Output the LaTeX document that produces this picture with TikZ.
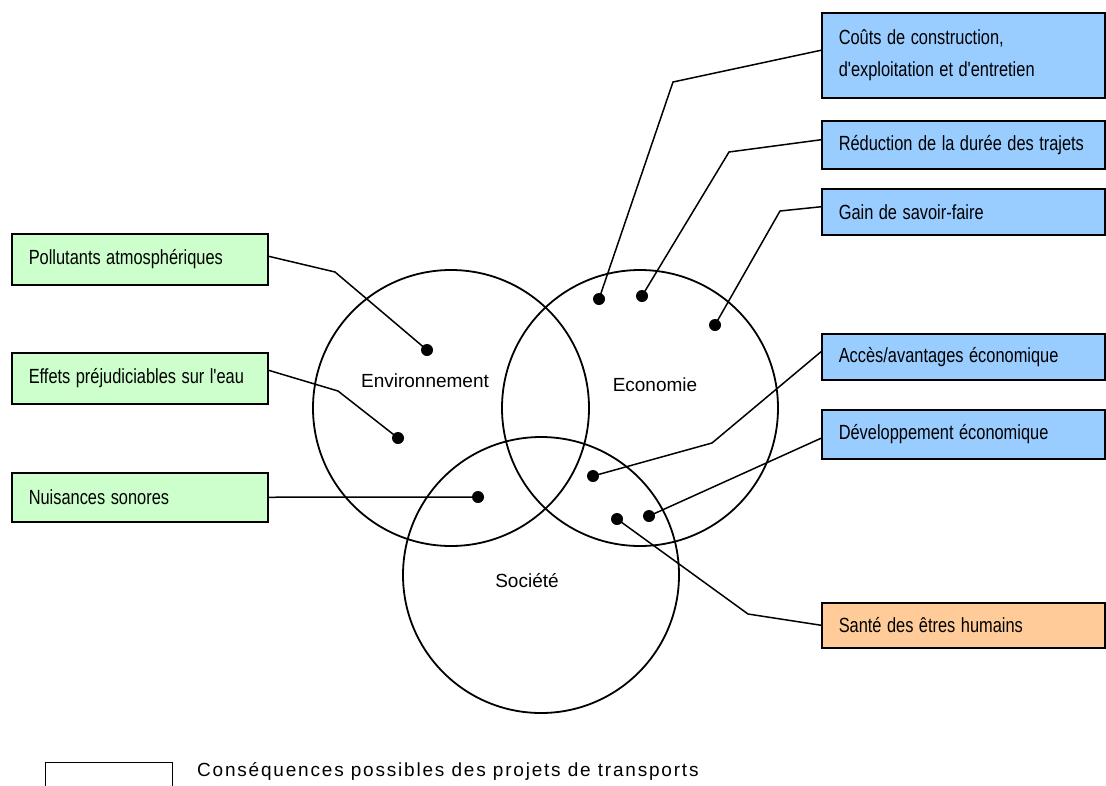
\documentclass[tikz,border=0pt]{standalone}
\usepackage{fontspec}
\setmainfont{Liberation Sans}
\newfontfamily\legendfont[LetterSpace=9.5]{Liberation Sans}
\newcommand{\nt}[1]{\scalebox{0.8}[1]{#1}}
\definecolor{gfill}{HTML}{CCFFCC}
\definecolor{bfill}{HTML}{99CCFF}
\definecolor{ofill}{HTML}{FFCC99}
\begin{document}
\begin{tikzpicture}[x=1pt,y=-1pt,
  cbox/.style={draw=black, line width=1.5pt, anchor=north west, inner xsep=17pt, inner ysep=0pt,
    align=left, font=\fontsize{20.5}{32}\selectfont},
  gbox/.style={cbox, fill=gfill, text width=222pt, minimum height=51pt},
  bbox/.style={cbox, fill=bfill, text width=249pt},
  obox/.style={cbox, fill=ofill, text width=249pt},
  dot/.style={circle, fill=black, inner sep=0pt, minimum size=12pt},
  venn/.style={draw=black, circle, line width=1.8pt, minimum size=276pt, inner sep=0pt},
  vlabel/.style={font=\fontsize{19}{22}\selectfont},
  conn/.style={draw=black, line width=1.5pt, line join=miter}]
\useasboundingbox (0,0) rectangle (1106,785);
\clip (0,0) rectangle (1106,785);
\fill[white] (0,0) rectangle (1106,785);

% Venn circles
\node[venn] (env) at (451,408) {};
\node[venn] (eco) at (640,408) {};
\node[venn] (soc) at (541,575) {};
\node[vlabel] (envl) at (425,381) {Environnement};
\node[vlabel] (ecol) at (655,385) {Economie};
\node[vlabel] (socl) at (527,581) {Société};

% boxes
\node[gbox] (pol) at (11,233) {\nt{Pollutants atmosphériques}};
\node[gbox] (eff) at (11,352) {\nt{Effets préjudiciables sur l\textquotesingle eau}};
\node[gbox, minimum height=49pt] (nui) at (11,472) {\nt{Nuisances sonores}};
\node[bbox, minimum height=85pt] (cout) at (821,12) {\nt{Coûts de construction,}\\\nt{d\textquotesingle exploitation et d\textquotesingle entretien}};
\node[bbox, minimum height=48pt] (red) at (821,120) {\nt{Réduction de la durée des trajets}};
\node[bbox, minimum height=46pt] (gain) at (821,188) {\nt{Gain de savoir-faire}};
\node[bbox, minimum height=46pt] (acc) at (821,333) {\nt{Accès/avantages économique}};
\node[bbox, minimum height=49pt] (dev) at (821,409) {\nt{Développement économique}};
\node[obox, minimum height=45pt] (sante) at (821,602) {\nt{Santé des êtres humains}};

% dots
\node[dot] (dp) at (427,350) {};
\node[dot] (de) at (398,438) {};
\node[dot] (dn) at (478,497) {};
\node[dot] (dc) at (599,299) {};
\node[dot] (dr) at (642,296) {};
\node[dot] (dg) at (715,325) {};
\node[dot] (da) at (593,476) {};
\node[dot] (dd) at (649,516) {};
\node[dot] (ds) at (617,519) {};

% kinks
\coordinate (kp) at (335,272);
\coordinate (ke) at (338,391);
\coordinate (kc) at (673,82);
\coordinate (kr) at (729,152);
\coordinate (kg) at (780,211);
\coordinate (ka) at (712,443);
\coordinate (ks) at (748,614);

% connectors
\draw[conn] ([yshift=3pt]pol.east) -- (kp) -- (dp.center);
\draw[conn] ([yshift=8pt]eff.east) -- (ke) -- (de.center);
\draw[conn] (nui.east) -- (dn.center);
\draw[conn] ([yshift=5pt]cout.west) -- (kc) -- (dc.center);
\draw[conn] ([yshift=5pt]red.west) -- (kr) -- (dr.center);
\draw[conn] ([yshift=5pt]gain.west) -- (kg) -- (dg.center);
\draw[conn] ([yshift=5pt]acc.west) -- (ka) -- (da.center);
\draw[conn] ([yshift=-4pt]dev.west) -- (dd.center);
\draw[conn] (sante.west) -- (ks) -- (ds.center);

% legend
\node[draw=black, line width=1.3pt, anchor=north west, minimum width=127pt, minimum height=40pt, inner sep=0pt] (legbox) at (45,762) {};
\node[anchor=base west, inner sep=0pt, font=\legendfont\fontsize{19}{21}\selectfont] (leg) at (197,776) {Conséquences possibles des projets de transports};
\end{tikzpicture}
\end{document}
